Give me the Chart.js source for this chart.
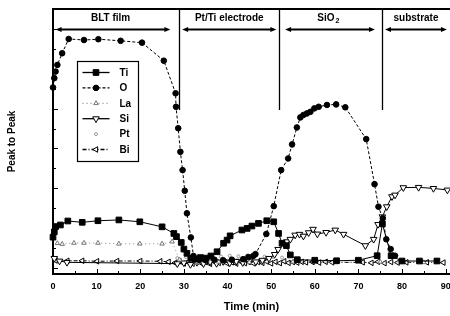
<!DOCTYPE html>
<html>
<head>
<meta charset="utf-8">
<script src="https://cdn.jsdelivr.net/npm/chart.js@4.4.1/dist/chart.umd.min.js"></script>
<style>
  html, body { margin: 0; padding: 0; background: #fff; }
  #chart { display: block; }
</style>
</head>
<body>
<canvas id="chart" width="450" height="316"></canvas>
<script>
// time axis (min)
var xMin = 0, xMax = 91, xStep = 10;
var yMin = -2.4, yMax = 97.6;

var tiTime = [0, 0.3, 0.6, 1.7, 3.4, 6.7, 10.3, 15.1, 19.9, 25.0, 27.7, 28.3, 29.4, 30.0, 30.7, 31.6, 32.6, 33.8, 35.0, 36.2, 37.6, 39.1, 39.9, 40.6, 43.3, 44.5, 45.6, 47.1, 49.0, 50.6, 51.7, 52.5, 53.5, 54.4, 56, 60, 65, 70, 74.3, 75.5, 77.5, 80, 84, 88];
var tiValue = [11.5, 13.5, 15.5, 16.1, 17.6, 17.1, 17.7, 18.0, 17.3, 15.4, 12.9, 11.7, 9.5, 7.0, 5.4, 3.5, 3.2, 3.8, 3.6, 4.4, 6.0, 9.2, 10.4, 12.0, 14.2, 14.8, 15.7, 16.7, 17.7, 17.3, 12.9, 9.2, 8.3, 4.8, 3.0, 2.8, 2.6, 2.8, 4.5, 16.5, 4.5, 2.5, 2.5, 2.5];

var oTime = [0, 0.3, 0.6, 1.0, 2.1, 3.6, 7.1, 10.4, 15.5, 20.4, 25.4, 28.1, 28.2, 28.7, 29.2, 29.7, 30.2, 30.7, 31.6, 32.2, 33.5, 35, 37, 39, 41, 43.6, 44.8, 45.9, 46.4, 48.9, 50.6, 52.3, 53.9, 54.8, 55.9, 56.7, 57.4, 58.2, 59.0, 59.9, 60.9, 62.8, 64.9, 67.0, 71.8, 73.7, 74.6, 75.6, 76.4, 77.4, 78.4];
var oValue = [68, 71.5, 74, 76.5, 80.9, 86.3, 85.9, 86.2, 85.6, 84.9, 78.1, 65.8, 60.7, 52.6, 43.7, 36.8, 29.0, 20.5, 11.4, 4.4, 3.0, 2.8, 3.0, 2.8, 3.0, 3.2, 4.0, 4.4, 5.1, 12.7, 23.2, 36.8, 41.2, 46.5, 52.9, 56.7, 57.6, 58.2, 58.8, 60.1, 60.7, 61.4, 61.6, 60.5, 48.5, 31.5, 23.0, 18.6, 10.7, 7.0, 4.5];

var laTime = [1.0, 2.1, 4.8, 7.1, 10.3, 15.1, 19.9, 25.0, 27.3, 29, 33, 38, 45, 55, 65, 75, 85];
var laValue = [9.2, 8.9, 9.3, 9.3, 9.3, 9.0, 9.0, 9.0, 9.8, 3.0, 2.0, 2.2, 2.0, 2.2, 2.0, 2.2, 2.0];

var siTime = [0.3, 1.5, 3.2, 28.5, 30, 31.5, 33, 34.5, 36, 37.5, 39, 40.5, 42, 43.5, 45, 46.5, 48, 49.5, 50.8, 51.6, 53.6, 54.4, 55.5, 56.5, 57.4, 58.6, 59.6, 60.6, 62.6, 64.7, 66.6, 71.6, 73.5, 74.5, 75.5, 76.5, 77.7, 78.4, 80.3, 83.8, 87.2, 90.4];
var siValue = [3.5, 2.5, 2.0, 1.5, 1.8, 1.2, 2.0, 1.5, 2.2, 1.6, 2.3, 1.8, 2.4, 1.9, 2.5, 2.2, 2.8, 3.5, 5.0, 6.9, 9.8, 10.7, 12.3, 12.6, 11.9, 13.2, 14.5, 12.7, 13.3, 14.2, 12.6, 8.3, 10.7, 16.3, 19.2, 23.0, 26.8, 27.4, 30.2, 30.3, 29.9, 29.3];

var ptTime = [28.5, 30.5, 32.5, 34.5, 36.5, 38.5, 40.5, 42.5, 44.5, 46.5, 48.5, 50.5, 52.5];
var ptValue = [3.6, 4.0, 4.3, 4.1, 4.4, 4.2, 4.5, 4.3, 4.6, 4.4, 4.2, 4.0, 3.8];

var biTime = [0.6, 3.3, 6.7, 10.1, 14.7, 20.0, 24.6, 26.5, 28.0, 29.0, 30.0, 31.0, 32.0, 33.0, 34.0, 35.0, 36.0, 37.0, 38.0, 39.0, 40.0, 41.0, 42.0, 43.0, 44.0, 45.0, 46.0, 47.0, 48.0, 49.0, 50.0, 51.0, 52.0, 53.0, 54.0, 55.0, 56.0, 57.0, 58.0, 59.5, 61.0, 62.5, 64.0, 71.0, 73.0, 74.5, 76.0, 77.5, 79.0, 81.0, 85.7, 89.5];
var biValue = [2.7, 2.6, 2.6, 2.4, 2.5, 2.5, 2.4, 2.2, 1.8, 2.4, 1.6, 2.2, 1.5, 2.3, 1.7, 2.1, 1.4, 2.2, 1.8, 2.4, 1.6, 2.0, 1.5, 2.3, 1.7, 2.2, 1.6, 2.1, 1.8, 2.3, 1.6, 2.2, 1.7, 2.4, 1.8, 2.1, 1.9, 2.2, 2.0, 2.1, 1.9, 2.2, 2.0, 2.0, 1.8, 2.2, 1.7, 2.1, 1.9, 2.0, 2.0, 1.9];

// header sections
var sectionNames = ['BLT film', 'Pt/Ti electrode', 'SiO\u2082', 'substrate'];
var sectionCenters = [13.2, 40.4, 63.1, 83.2];
var sectionBounds = [28.8, 51.8, 75.4];
var arrowStarts = [0.6, 29.6, 53.2, 76.1];
var arrowEnds = [26.9, 51.2, 73.8, 90.3];

function pts(t, v) {
    return t.map(function (x, i) { return { x: x, y: v[i] }; });
}

var boldFont = 'bold 10px "Liberation Sans", Arial, sans-serif';

function arrow(ctx, x1, x2, y) {
    var h = 6, w = 2.6;
    ctx.beginPath();
    ctx.moveTo(x1 + h - 1, y);
    ctx.lineTo(x2 - h + 1, y);
    ctx.stroke();
    ctx.beginPath();
    ctx.moveTo(x1, y); ctx.lineTo(x1 + h, y - w); ctx.lineTo(x1 + h, y + w); ctx.closePath();
    ctx.moveTo(x2, y); ctx.lineTo(x2 - h, y - w); ctx.lineTo(x2 - h, y + w); ctx.closePath();
    ctx.fill();
}

var frame = {
    id: 'frame',
    beforeDatasetsDraw: function (chart) {
        var ctx = chart.ctx, a = chart.chartArea, xs = chart.scales.x, ys = chart.scales.y;
        ctx.save();
        ctx.strokeStyle = '#000';
        ctx.lineWidth = 1;
        ctx.beginPath();
        for (var t = xMin; t <= xMax; t += 5) {
            var px = Math.round(xs.getPixelForValue(t)) + 0.5;
            var len = t % 10 === 0 ? 5 : 3;
            ctx.moveTo(px, a.bottom); ctx.lineTo(px, a.bottom - len);
        }
        for (var v = 0; v < yMax - 2; v += 7.5) {
            var py = Math.round(ys.getPixelForValue(v)) + 0.5;
            var l2 = v % 15 === 0 ? 5 : 3;
            ctx.moveTo(a.left, py); ctx.lineTo(a.left + l2, py);
        }
        ctx.stroke();

        // section dividers
        ctx.lineWidth = 1.3;
        ctx.beginPath();
        sectionBounds.forEach(function (b) {
            var px = Math.round(xs.getPixelForValue(b)) + 0.5;
            ctx.moveTo(px, a.top); ctx.lineTo(px, a.top + 101);
        });
        ctx.stroke();

        // arrows
        ctx.fillStyle = '#000';
        ctx.lineWidth = 2;
        var ay = a.top + 20.5;
        for (var i = 0; i < sectionNames.length; i++) {
            arrow(ctx, xs.getPixelForValue(arrowStarts[i]), xs.getPixelForValue(arrowEnds[i]), ay);
        }

        // section labels
        ctx.font = boldFont;
        ctx.textBaseline = 'middle';
        ctx.textAlign = 'left';
        sectionNames.forEach(function (name, i) {
            var cx = xs.getPixelForValue(sectionCenters[i]), cy = a.top + 9;
            var parts = name.split('\u2082');
            if (parts.length > 1) {
                var w1 = ctx.measureText(parts[0]).width;
                ctx.font = 'bold 7px "Liberation Sans", Arial, sans-serif';
                var w2 = ctx.measureText('2').width;
                var x0 = cx - (w1 + w2 + 1) / 2;
                ctx.fillText('2', x0 + w1 + 1, cy + 3);
                ctx.font = boldFont;
                ctx.fillText(parts[0], x0, cy);
            } else {
                ctx.fillText(name, cx - ctx.measureText(name).width / 2, cy);
            }
        });

        // axes
        ctx.lineWidth = 2;
        ctx.beginPath();
        ctx.moveTo(a.right + 2, a.top); ctx.lineTo(a.left, a.top);
        ctx.lineTo(a.left, a.bottom); ctx.lineTo(a.right + 2, a.bottom);
        ctx.stroke();
        ctx.restore();
    },
    afterDatasetsDraw: function (chart) {
        var ctx = chart.ctx;
        var bx = 77.5, by = 61.5, bw = 61, bh = 100, row = 15.4;
        ctx.save();
        ctx.fillStyle = '#fff';
        ctx.fillRect(bx, by, bw, bh);
        ctx.strokeStyle = '#000';
        ctx.lineWidth = 1.2;
        ctx.strokeRect(bx, by, bw, bh);
        chart.data.datasets.forEach(function (ds, i) {
            var y = by + 11 + i * row;
            ctx.strokeStyle = ds.borderColor;
            ctx.lineWidth = ds.borderWidth + 0.3;
            ctx.setLineDash(ds.borderDash || []);
            if (ds.showLine !== false) {
                ctx.beginPath();
                ctx.moveTo(bx + 5, y); ctx.lineTo(bx + 32, y);
                ctx.stroke();
            }
            ctx.setLineDash([]);
            ctx.fillStyle = ds.pointBackgroundColor;
            ctx.strokeStyle = ds.pointBorderColor;
            ctx.lineWidth = 1;
            Chart.helpers.drawPoint(ctx, {
                pointStyle: ds.pointStyle, radius: ds.pointRadius,
                rotation: ds.pointRotation || 0, borderWidth: 1
            }, bx + 18.5, y);
            ctx.fillStyle = '#000';
            ctx.font = boldFont;
            ctx.textBaseline = 'middle';
            ctx.textAlign = 'left';
            ctx.fillText(ds.label, bx + 42, y + 0.5);
        });
        ctx.restore();
    }
};

function series(label, t, v, style) {
    var ds = {
        label: label,
        data: pts(t, v),
        borderColor: '#000',
        borderWidth: 1,
        pointBorderColor: '#000',
        pointBackgroundColor: '#000',
        pointBorderWidth: 1,
        pointRadius: 3,
        clip: false
    };
    for (var k in style) ds[k] = style[k];
    return ds;
}

var datasets = [
    series('Ti', tiTime, tiValue, { pointStyle: 'rect', pointRadius: 4 }),
    series('O', oTime, oValue, { pointStyle: 'circle', pointRadius: 2.8, borderDash: [3, 2] }),
    series('La', laTime, laValue, { pointStyle: 'triangle', pointRadius: 2.6, borderColor: '#888', borderDash: [1, 3], pointBorderColor: '#777', pointBackgroundColor: '#fff' }),
    series('Si', siTime, siValue, { pointStyle: 'triangle', pointRotation: 180, pointRadius: 3.8, pointBackgroundColor: '#fff' }),
    series('Pt', ptTime, ptValue, { pointStyle: 'circle', pointRadius: 1.5, showLine: false, borderColor: '#999', pointBorderColor: '#999', pointBackgroundColor: '#fff' }),
    series('Bi', biTime, biValue, { pointStyle: 'triangle', pointRotation: -90, pointRadius: 3.2, borderDash: [4, 2, 1, 2], pointBackgroundColor: '#fff' })
];

var ctx = document.getElementById('chart').getContext('2d');
var myChart = new Chart(ctx, {
    type: 'line',
    data: { datasets: datasets },
    plugins: [frame],
    options: {
        responsive: false,
        devicePixelRatio: 1,
        animation: false,
        events: [],
        layout: { autoPadding: false, padding: { top: 9, right: 0, bottom: 0, left: 0 } },
        plugins: { legend: { display: false }, tooltip: { enabled: false } },
        elements: { line: { tension: 0 } },
        scales: {
            x: {
                type: 'linear', min: xMin, max: xMax,
                grid: { display: false, drawTicks: false },
                border: { display: false },
                ticks: {
                    stepSize: xStep, includeBounds: false, maxRotation: 0, padding: 7, color: '#000',
                    font: { family: '"Liberation Sans", Arial, sans-serif', size: 9, weight: 'bold' }
                },
                title: {
                    display: true, text: 'Time (min)', color: '#000', padding: { top: 0, bottom: 2 },
                    font: { family: '"Liberation Sans", Arial, sans-serif', size: 11, weight: 'bold' }
                },
                afterFit: function (s) { s.height = 42; s.paddingLeft = 0; s.paddingRight = 0; }
            },
            y: {
                type: 'linear', min: yMin, max: yMax,
                grid: { display: false, drawTicks: false },
                border: { display: false },
                ticks: { display: false },
                title: {
                    display: true, text: 'Peak to Peak', color: '#000', padding: { top: 6, bottom: 0 },
                    font: { family: '"Liberation Sans", Arial, sans-serif', size: 10, weight: 'bold' }
                },
                afterFit: function (s) { s.width = 53; }
            }
        }
    }
});
</script>
</body>
</html>
